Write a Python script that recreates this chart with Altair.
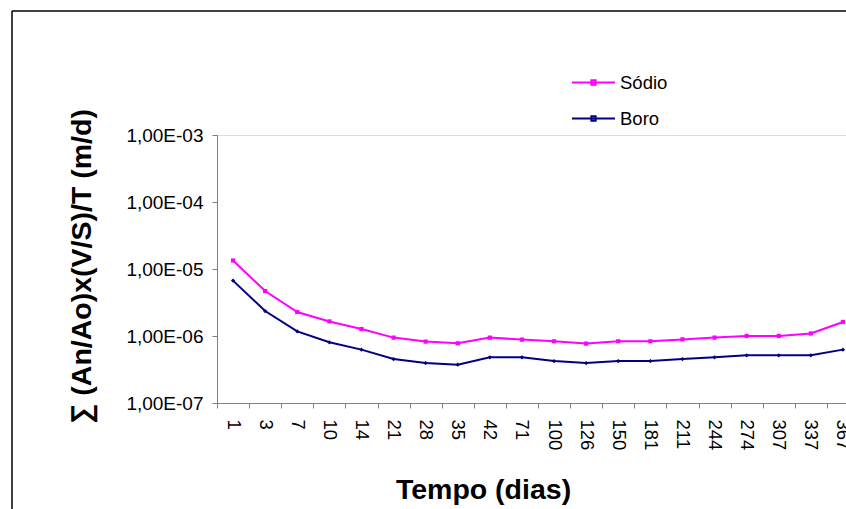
import altair as alt
import pandas as pd

days = ["1", "3", "7", "10", "14", "21", "28", "35", "42", "71", "100",
        "126", "150", "181", "211", "244", "274", "307", "337", "367"]
sodio = [1.34e-5, 4.69e-6, 2.28e-6, 1.65e-6, 1.27e-6, 9.46e-7, 8.25e-7, 7.78e-7,
         9.46e-7, 8.83e-7, 8.33e-7, 7.70e-7, 8.33e-7, 8.33e-7, 8.90e-7, 9.46e-7,
         1.00e-6, 1.00e-6, 1.09e-6, 1.62e-6]
boro = [6.71e-6, 2.36e-6, 1.17e-6, 8.05e-7, 6.26e-7, 4.53e-7, 3.95e-7, 3.73e-7,
        4.80e-7, 4.80e-7, 4.23e-7, 3.95e-7, 4.23e-7, 4.23e-7, 4.53e-7, 4.80e-7,
        5.15e-7, 5.15e-7, 5.15e-7, 6.26e-7]
series = ["Sódio", "Boro"]
colors = ["#FF00FF", "#000080"]
shapes = ["square", "diamond"]
y_ticks = [1e-7, 1e-6, 1e-5, 1e-4, 1e-3]

rows = []
for name, vals in zip(series, [sodio, boro]):
    for d, v in zip(days, vals):
        rows.append({"dia": d, "serie": name, "valor": v})
df = pd.DataFrame(rows)

FONT = "Liberation Sans"

x_enc = alt.X(
    "dia:O", sort=days,
    scale=alt.Scale(type="band", paddingInner=0, paddingOuter=0, range=[0, 642]),
    axis=alt.Axis(
        title="Tempo (dias)", labelAngle=90, labelAlign="left", labelBaseline="middle",
        labelFontSize=18.5, labelFont=FONT, labelColor="black", labelPadding=11,
        tickBand="extent", tickSize=5, tickColor="#808080", domainColor="#808080",
        titleFont=FONT, titleFontSize=28.5, titleFontWeight="bold", titleColor="black",
        titleX=266, titleY=95, titleAlign="center", titleBaseline="alphabetic",
        labelOverlap=False, labelBound=False, grid=False,
    ),
)
y_enc = alt.Y(
    "valor:Q",
    scale=alt.Scale(type="log", domain=[1e-7, 1e-3], nice=False),
    axis=alt.Axis(
        title="∑ (An/Ao)x(V/S)/T (m/d)", values=y_ticks,
        labelExpr="'1,00E-0' + abs(round(log(datum.value)/LN10))",
        labelFontSize=19, labelFont=FONT, labelColor="black", labelPadding=9,
        tickSize=5, tickColor="#808080", domainColor="#808080", grid=False,
        titleFont=FONT, titleFontSize=28.5, titleFontWeight="bold", titleColor="black",
        titleX=-127, titleY=131, titleAlign="center", titleBaseline="alphabetic",
        titleAngle=-90,
    ),
)
color_scale = alt.Scale(domain=series, range=colors)

lines = alt.Chart(df).mark_line(strokeWidth=2).encode(
    x=x_enc, y=y_enc,
    color=alt.Color("serie:N", scale=color_scale, sort=series,
                    legend=alt.Legend(
                        title=None, orient="none", legendX=354, legendY=-75,
                        symbolType="M-1,0H1M-0.1,-0.1H0.1V0.1H-0.1Z",
                        symbolSize=1849, symbolStrokeWidth=2,
                        labelFont=FONT, labelFontSize=18.5, labelColor="black",
                        labelOffset=4, rowPadding=4,
                    )),
)
points = alt.Chart(df).mark_point(filled=True, size=18, opacity=1).encode(
    x=x_enc, y=y_enc,
    color=alt.Color("serie:N", scale=color_scale, legend=None),
    shape=alt.Shape("serie:N", scale=alt.Scale(domain=series, range=shapes), legend=None),
)
one = alt.Data(values=[{"k": 1}])
frame_left = alt.Chart(one).mark_rule(color="black", strokeWidth=1.5).encode(
    x=alt.value(-205), y=alt.value(-124), y2=alt.value(380)
)
frame_top = alt.Chart(one).mark_rule(color="black", strokeWidth=1.5).encode(
    x=alt.value(-205), x2=alt.value(700), y=alt.value(-124)
)

chart = alt.layer(frame_left, frame_top, lines, points).resolve_legend(
    color="independent"
).properties(
    width=629, height=268,
    padding={"left": 217, "top": 135, "right": 0, "bottom": 106},
    autosize=alt.AutoSizeParams(type="none"),
).configure_view(stroke=None).configure(background="white")

chart.save("out.html", embed_options={"renderer": "svg", "actions": False})
